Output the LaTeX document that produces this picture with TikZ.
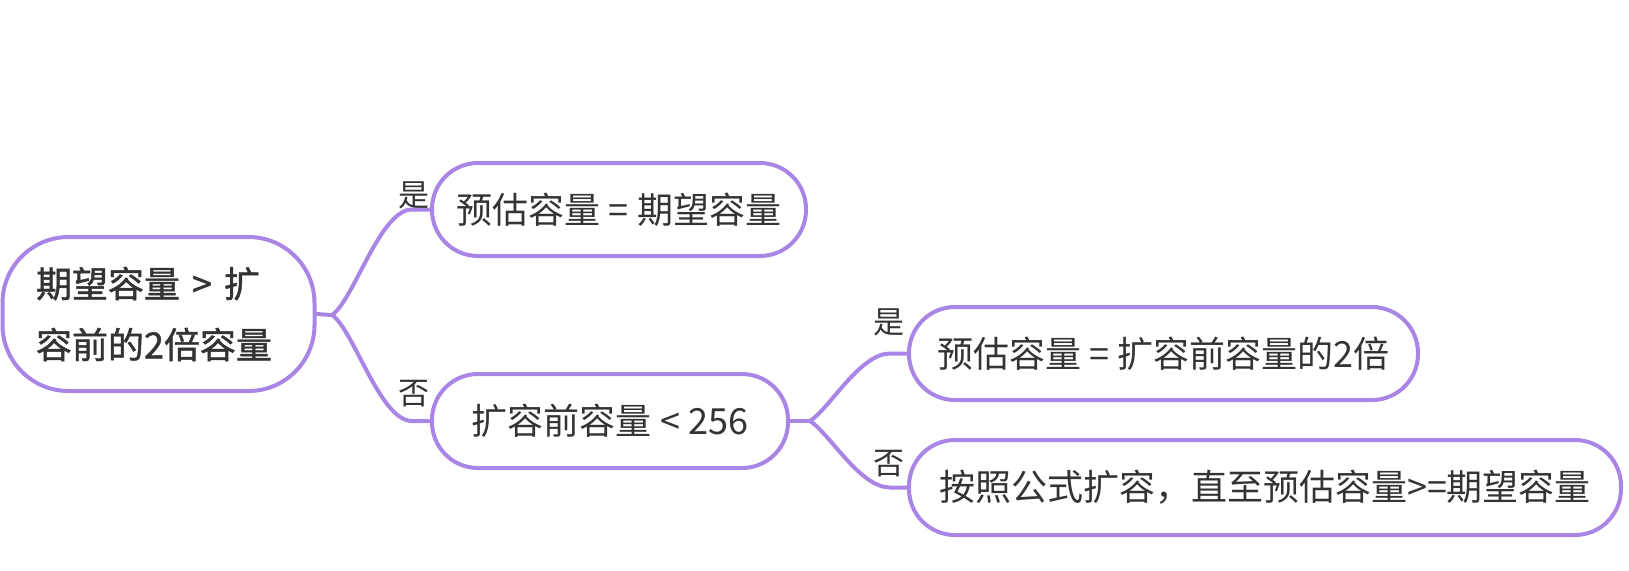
\documentclass[tikz,border=0pt]{standalone}
\usepackage{fontspec}
\setmainfont{Noto Sans CJK SC}
\newfontfamily\rootfont{Noto Sans CJK SC}[FakeBold=1.2]
\definecolor{lilac}{HTML}{A985E6}
\definecolor{ink}{HTML}{333333}
\begin{document}
\begin{tikzpicture}[x=0.5pt,y=-0.5pt,
  box/.style={draw=lilac,line width=2pt,rounded corners=23pt,text=ink,
    inner sep=0pt,font=\fontsize{18}{30.5}\selectfont},
  link/.style={draw=lilac,line width=2pt,line cap=round},
  lbl/.style={text=ink,inner sep=0pt,font=\fontsize{15.5}{18}\selectfont}]
\useasboundingbox (0,0) rectangle (1629,570);
\node[box,rounded corners=33pt,minimum width=156pt,minimum height=77pt,align=left,text width=122.5pt,
  font=\rootfont\fontsize{18}{30.5}\selectfont]
  (root) at (158.5,314) {期望容量 > 扩\\容前的2倍容量};
\node[box,minimum width=187pt,minimum height=46.5pt] (a) at (619,209.5) {预估容量 = 期望容量};
\node[box,minimum width=178pt,minimum height=47pt] (b) at (610,421) {扩容前容量 < 256};
\node[box,minimum width=254.5pt,minimum height=46.5pt] (c) at (1163.5,353.5) {预估容量 = 扩容前容量的2倍};
\node[box,minimum width=356pt,minimum height=47.5pt] (d) at (1265,487.5) {按照公式扩容，直至预估容量>=期望容量};
\coordinate (j1) at (332,315);
\coordinate (ea) at (412,209.5);
\coordinate (eb) at (412,421);
\coordinate (j2) at (810,421);
\coordinate (ec) at (890,353.5);
\coordinate (ed) at (890,487.5);
\draw[link] (root.east) -- (j1);
\draw[link] (j1) .. controls (354,300) and (380,209.5) .. (ea) -- (a.west);
\draw[link] (j1) .. controls (354,330) and (380,421) .. (eb) -- (b.west);
\draw[link] (b.east) -- (j2);
\draw[link] (j2) .. controls (830,408) and (860,353.5) .. (ec) -- (c.west);
\draw[link] (j2) .. controls (830,434) and (860,487.5) .. (ed) -- (d.west);
\node[lbl] (l1) at (414,195) {是};
\node[lbl] (l2) at (414,394) {否};
\node[lbl] (l3) at (889,322) {是};
\node[lbl] (l4) at (889,464) {否};
\end{tikzpicture}
\end{document}
